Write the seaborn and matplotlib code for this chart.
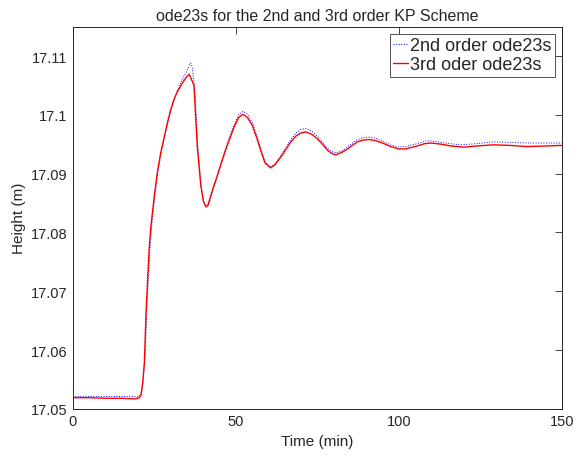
import numpy as np
import pandas as pd
import seaborn as sns
from matplotlib import pyplot as plt

# 3rd order ode23s (red, solid)
t_third = [0, 5, 10, 15, 19, 20, 20.6, 21, 21.5, 22, 22.5, 23, 23.5, 24, 25, 26, 27, 28, 29, 30,
           31, 32, 33, 34, 35, 35.7, 36.3, 37.2, 38.2, 39.3, 40.1, 40.8, 41.4, 41.8, 43, 44.4,
           46, 47.4, 49.5, 51, 52.2, 53.5, 55.1, 56.5, 57.7, 59, 60.7, 62, 63.8, 65.5, 66.9,
           68.5, 69.9, 71.5, 73.3, 75.1, 76.6, 78.1, 79.5, 80.7, 82.5, 84.3, 86, 87.3, 89, 90.9,
           93, 95.5, 97.5, 100, 102, 105, 108, 110, 113, 116, 120, 124, 129, 134, 139.5, 145, 150]
h_third = [17.0519, 17.0519, 17.0518, 17.0518, 17.0517, 17.0518, 17.0520, 17.0525, 17.0545,
           17.0578, 17.0662, 17.0720, 17.0775, 17.0810, 17.0860, 17.0903, 17.0935, 17.0960,
           17.0985, 17.1007, 17.1025, 17.1038, 17.1048, 17.1057, 17.1065, 17.1069, 17.1062,
           17.1050, 17.0948, 17.0880, 17.0853, 17.0844, 17.0846, 17.0852, 17.0874, 17.0897,
           17.0925, 17.0948, 17.0979, 17.0996, 17.1001, 17.0996, 17.0982, 17.0960, 17.0939,
           17.0918, 17.0910, 17.0915, 17.0928, 17.0942, 17.0954, 17.0964, 17.0969, 17.0971,
           17.0967, 17.0959, 17.0950, 17.0940, 17.0934, 17.0932, 17.0936, 17.0942, 17.0949,
           17.0954, 17.0957, 17.0958, 17.0956, 17.0951, 17.0946, 17.0942, 17.0942, 17.0946,
           17.0951, 17.0952, 17.0950, 17.0947, 17.0945, 17.0947, 17.0949, 17.0948, 17.0946,
           17.0947, 17.0948]

# 2nd order ode23s (blue, dotted)
t_second = [0, 5, 10, 15, 20, 21, 21.5, 22.3, 22.8, 23.3, 23.8, 24.3, 25.2, 26.2, 27.2, 28.2,
            29.2, 30.2, 31.2, 32.2, 33.2, 34.2, 35.2, 35.8, 36.2, 36.7, 37.5, 38.4, 39.4, 40.2,
            40.9, 41.5, 41.9, 43, 44.4, 46, 47.4, 49.5, 51, 52.3, 53.6, 55.2, 56.6, 57.8, 59,
            60.8, 62, 63.8, 65.5, 66.9, 68.5, 70, 71.6, 73.4, 75.2, 76.7, 78.2, 79.6, 80.8,
            82.6, 84.4, 86, 87.4, 89, 91, 93, 95.5, 97.5, 100, 102, 105, 108.8, 111, 114, 119,
            124, 129, 134, 140, 145, 150]
h_second = [17.0521, 17.0521, 17.0521, 17.0521, 17.0521, 17.0523, 17.0540, 17.0600, 17.0680,
            17.0730, 17.0780, 17.0815, 17.0862, 17.0905, 17.0937, 17.0962, 17.0987, 17.1009,
            17.1028, 17.1043, 17.1055, 17.1066, 17.1077, 17.1085, 17.1088, 17.1080, 17.1040,
            17.0945, 17.0878, 17.0851, 17.0842, 17.0844, 17.0850, 17.0872, 17.0897, 17.0927,
            17.0951, 17.0983, 17.1001, 17.1006, 17.1001, 17.0986, 17.0963, 17.0941, 17.0920,
            17.0911, 17.0916, 17.0930, 17.0946, 17.0958, 17.0969, 17.0975, 17.0977, 17.0972,
            17.0963, 17.0953, 17.0943, 17.0937, 17.0935, 17.0939, 17.0946, 17.0953, 17.0958,
            17.0961, 17.0962, 17.0960, 17.0954, 17.0949, 17.0945, 17.0946, 17.0950, 17.0956,
            17.0955, 17.0952, 17.0949, 17.0951, 17.0954, 17.0953, 17.0952, 17.0952, 17.0952]

x_ticks = [0, 50, 100, 150]
y_ticks = [17.05, 17.06, 17.07, 17.08, 17.09, 17.1, 17.11]
y_tick_labels = ["17.05", "17.06", "17.07", "17.08", "17.09", "17.1", "17.11"]

sns.set_theme(style="white")
plt.rcParams['font.family'] = ['Liberation Sans', 'DejaVu Sans']

df_second = pd.DataFrame({"Time": t_second, "Height": h_second})
df_third = pd.DataFrame({"Time": t_third, "Height": h_third})

fig = plt.figure(figsize=(5.81, 4.60), dpi=100)
ax = fig.add_axes([0.125, 0.109, 0.842, 0.831])

sns.lineplot(data=df_second, x="Time", y="Height", ax=ax, color="#0000ff",
             linestyle=":", linewidth=0.7, label="2nd order ode23s", sort=False)
sns.lineplot(data=df_third, x="Time", y="Height", ax=ax, color="#ff0000",
             linewidth=1.0, label="3rd oder ode23s", sort=False)

ax.set_xlim(0, 150)
ax.set_ylim(17.05, 17.115)
ax.set_xticks(x_ticks)
ax.set_yticks(y_ticks)
ax.set_yticklabels(y_tick_labels)
ax.tick_params(direction="in", length=5, width=0.6, colors="#262626", labelsize=10.5,
               top=True, right=True, pad=4)
for sp in ax.spines.values():
    sp.set_color("#262626")
    sp.set_linewidth(0.7)

ax.set_xlabel("Time (min)", fontsize=11, color="#262626")
ax.set_ylabel("Height (m)", fontsize=11, color="#262626", labelpad=3)
ax.set_title("ode23s for the 2nd and 3rd order KP Scheme", fontsize=11.5, color="#262626", pad=5)

leg = ax.legend(loc="upper right", fontsize=13, frameon=True, fancybox=False,
                handlelength=0.8, handletextpad=0.1, borderpad=0.2, labelspacing=0.1,
                borderaxespad=0.4)
leg.get_frame().set_edgecolor("#262626")
leg.get_frame().set_linewidth(0.7)

fig.savefig("out.png", dpi=100)
